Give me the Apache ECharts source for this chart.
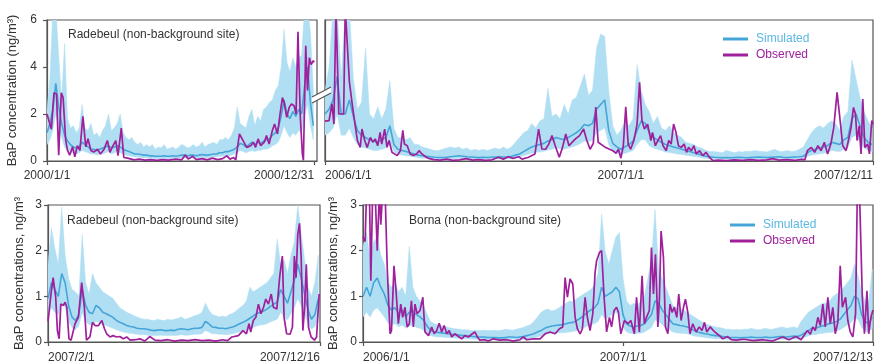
<!DOCTYPE html>
<html>
<head>
<meta charset="utf-8">
<script src="https://cdn.jsdelivr.net/npm/echarts@6/dist/echarts.min.js"></script>
<style>
  html, body { margin: 0; padding: 0; background: #fff; }
  #chart { width: 876px; height: 364px; }
</style>
</head>
<body>
<div id="chart"></div>
<script>
// ---------- Radebeul 2000 (top left), simulated band sampled every 4 days ----------
const tlStep = 4;
const tlLow = [
  0.7, 0.9, 1.3, 2.0, 1.4, 1.0, 0.6, 0.45, 0.4, 0.35,
  0.3, 0.35, 0.45, 0.4, 0.35, 0.3, 0.3, 0.25, 0.3, 0.3,
  0.35, 0.4, 0.3, 0.35, 0.4, 0.35, 0.3, 0.25, 0.22, 0.2,
  0.17, 0.17, 0.15, 0.13, 0.13, 0.12, 0.12, 0.1, 0.1, 0.1,
  0.12, 0.1, 0.1, 0.12, 0.1, 0.12, 0.13, 0.13, 0.12, 0.13,
  0.13, 0.12, 0.13, 0.15, 0.13, 0.13, 0.15, 0.17, 0.17, 0.2,
  0.2, 0.22, 0.22, 0.25, 0.3, 0.35, 0.45, 0.4, 0.35, 0.4,
  0.45, 0.4, 0.45, 0.45, 0.5, 0.5, 0.55, 0.65, 0.7, 0.8,
  1.1, 1.5, 1.2, 1.0, 1.2, 1.1, 1.3, 1.2, 1.9, 2.4,
  1.5, 0.9
];
const tlMid = [
  1.2, 1.6, 2.2, 3.3, 2.3, 1.6, 1.1, 0.85, 0.7, 0.6,
  0.55, 0.6, 0.8, 0.7, 0.6, 0.5, 0.5, 0.45, 0.5, 0.55,
  0.6, 0.65, 0.55, 0.6, 0.65, 0.6, 0.5, 0.45, 0.4, 0.35,
  0.3, 0.3, 0.28, 0.25, 0.25, 0.22, 0.22, 0.2, 0.2, 0.2,
  0.22, 0.2, 0.2, 0.22, 0.2, 0.22, 0.25, 0.25, 0.22, 0.25,
  0.25, 0.22, 0.25, 0.28, 0.25, 0.25, 0.28, 0.3, 0.3, 0.35,
  0.35, 0.4, 0.4, 0.45, 0.5, 0.6, 0.75, 0.7, 0.6, 0.7,
  0.8, 0.7, 0.8, 0.75, 0.85, 0.9, 0.95, 1.1, 1.2, 1.4,
  1.9, 2.6, 2.0, 1.8, 2.1, 1.9, 2.2, 2.0, 3.2, 4.0,
  2.5, 1.5
];
const tlHigh = [
  2.2, 3.5, 6.5, 6.5, 4.5, 2.6, 5.0, 1.8, 1.4, 1.5,
  1.2, 1.4, 2.4, 1.4, 1.3, 1.6, 1.1, 1.2, 1.0, 1.3,
  1.5, 2.0, 1.3, 1.4, 1.6, 2.0, 1.2, 1.0, 0.9, 1.0,
  0.8, 0.7, 0.8, 0.6, 0.7, 0.6, 0.7, 0.5, 0.6, 0.55,
  0.7, 0.5, 0.55, 0.6, 0.5, 0.6, 0.7, 0.65, 0.55, 0.6,
  0.7, 0.6, 0.65, 0.8, 0.6, 0.7, 0.75, 0.8, 0.7, 0.9,
  0.9, 1.0, 0.9, 1.1, 1.4, 2.3, 1.6, 1.5, 1.4, 1.9,
  2.2, 1.5, 1.9, 1.7, 2.2, 2.3, 2.5, 2.6, 3.0, 3.2,
  4.0, 5.6, 4.2, 3.8, 4.4, 4.0, 4.4, 4.5, 6.5, 6.5,
  5.5, 3.0
];
// observed: [day of record, ng/m3]
const tlObserved = [
  [0, 2.0], [6, 1.35], [9.5, 2.9], [13, 2.85], [16, 0.25], [19.5, 2.9], [22, 2.7], [25.5, 0.9],
  [28, 0.45], [31, 0.25], [35, 0.6], [38, 0.18], [41.5, 0.65], [45, 0.45], [49, 1.9], [53, 0.6],
  [56, 0.95], [60, 0.45], [64, 0.38], [69, 0.5], [73, 0.3], [78, 0.5], [82.5, 0.87], [86, 0.37],
  [89, 0.58], [94, 0.87], [97, 0.23], [101.5, 1.4], [105, 0.15], [110, 0.12], [119, 0.05], [126, 0.08],
  [134, 0.04], [142, 0.06], [150, 0.03], [158, 0.06], [166, 0.04], [176, 0.08], [184, 0.05], [189, 0.25],
  [193, 0.08], [199, 0.2], [204, 0.06], [212, 0.1], [219, 0.05], [226, 0.12], [233, 0.06], [240, 0.1],
  [246, 0.22], [250, 0.08], [255, 0.15], [258, 0.05], [263, 1.15], [268, 0.87], [273, 0.58], [278.5, 0.65],
  [282, 0.8], [285, 0.58], [288.5, 0.94], [292, 0.65], [297, 0.8], [300, 1.08], [303.5, 0.72], [308, 1.3],
  [311, 1.57], [315, 1.15], [318.5, 2.0], [321.7, 2.7], [324, 2.5], [327.6, 1.86], [331, 2.28], [334, 2.43],
  [337.7, 2.35], [340.4, 2.0], [343, 5.5], [346, 2.0], [349, 0.3], [350.4, 0.03], [353.6, 4.9], [356, 3.0],
  [358.6, 4.4], [361, 4.1], [364, 4.27], [365, 4.2]
];

// ---------- Radebeul 2006-2007 (top right), band sampled every 5 records ----------
const trStep = 5;
const trLow = [
  1.1, 1.2, 1.4, 2.0, 1.1, 1.1, 1.4, 1.0, 0.7, 0.6,
  0.55, 0.5, 0.45, 0.45, 0.5, 0.55, 0.8, 0.4, 0.28, 0.25,
  0.22, 0.2, 0.17, 0.14, 0.12, 0.11, 0.1, 0.09, 0.08, 0.08,
  0.09, 0.1, 0.1, 0.11, 0.1, 0.09, 0.09, 0.08, 0.08, 0.08,
  0.08, 0.08, 0.09, 0.09, 0.09, 0.09, 0.11, 0.14, 0.17, 0.22,
  0.28, 0.33, 0.36, 0.39, 0.41, 0.47, 0.5, 0.55, 0.52, 0.5,
  0.55, 0.6, 0.66, 0.74, 0.85, 0.82, 0.88, 1.2, 1.3, 1.4,
  0.7, 0.4, 0.33, 0.28, 0.33, 0.38, 0.45, 0.7, 0.9, 0.9,
  0.65, 0.55, 0.5, 0.45, 0.38, 0.36, 0.33, 0.3, 0.28, 0.25,
  0.22, 0.19, 0.17, 0.14, 0.11, 0.1, 0.09, 0.08, 0.08, 0.08,
  0.08, 0.08, 0.09, 0.08, 0.08, 0.08, 0.09, 0.09, 0.09, 0.08,
  0.09, 0.09, 0.1, 0.09, 0.08, 0.09, 0.09, 0.1, 0.11, 0.2,
  0.25, 0.28, 0.3, 0.33, 0.36, 0.45, 0.42, 0.4, 0.5, 0.55,
  1.0, 1.1, 0.8, 0.55, 0.45, 0.4
];
const trMid = [
  2.0, 2.2, 2.6, 3.6, 2.0, 2.0, 2.6, 1.9, 1.3, 1.1,
  1.0, 0.9, 0.85, 0.8, 0.9, 1.0, 1.5, 0.7, 0.5, 0.45,
  0.4, 0.35, 0.3, 0.25, 0.22, 0.2, 0.18, 0.16, 0.15, 0.15,
  0.16, 0.18, 0.2, 0.22, 0.2, 0.18, 0.17, 0.16, 0.15, 0.16,
  0.15, 0.16, 0.17, 0.18, 0.17, 0.18, 0.2, 0.25, 0.3, 0.4,
  0.5, 0.6, 0.65, 0.7, 0.75, 0.85, 0.9, 1.0, 0.95, 0.9,
  1.0, 1.1, 1.2, 1.35, 1.55, 1.5, 1.6, 2.2, 2.4, 2.6,
  1.3, 0.75, 0.6, 0.5, 0.6, 0.7, 0.85, 1.3, 1.7, 1.6,
  1.2, 1.0, 0.9, 0.8, 0.7, 0.65, 0.6, 0.55, 0.5, 0.45,
  0.4, 0.35, 0.3, 0.25, 0.2, 0.18, 0.16, 0.15, 0.14, 0.15,
  0.14, 0.15, 0.16, 0.15, 0.14, 0.15, 0.16, 0.17, 0.16, 0.15,
  0.16, 0.17, 0.18, 0.16, 0.15, 0.16, 0.17, 0.18, 0.2, 0.35,
  0.45, 0.5, 0.55, 0.6, 0.65, 0.8, 0.75, 0.7, 0.9, 1.0,
  1.8, 2.0, 1.5, 1.0, 0.8, 0.7
];
const trHigh = [
  3.0, 4.0, 6.5, 6.5, 3.5, 6.5, 6.5, 3.5, 2.2, 2.5,
  4.8, 2.0, 1.8, 2.3, 1.8, 2.2, 3.4, 1.4, 1.0, 1.0,
  0.9, 1.0, 0.7, 0.7, 0.6, 0.55, 0.5, 0.45, 0.45, 0.5,
  0.55, 0.6, 0.55, 0.6, 0.5, 0.55, 0.45, 0.5, 0.45, 0.5,
  0.45, 0.5, 0.55, 0.5, 0.6, 0.5, 0.6, 0.8, 1.0, 1.2,
  1.3, 1.6, 1.4, 1.7, 1.8, 3.1, 1.9, 2.0, 1.8, 2.4,
  2.0, 2.6, 2.7, 3.2, 3.7, 2.8, 3.0, 4.8, 5.4, 5.3,
  3.0, 1.5, 1.1, 1.3, 1.7, 1.5, 1.8, 4.1, 3.0, 2.4,
  2.1, 1.6, 1.9, 1.4, 1.3, 1.5, 1.2, 1.1, 1.0, 0.8,
  0.75, 0.7, 0.6, 0.55, 0.45, 0.4, 0.4, 0.38, 0.35, 0.45,
  0.4, 0.35, 0.4, 0.38, 0.42, 0.4, 0.45, 0.42, 0.4, 0.38,
  0.45, 0.5, 0.42, 0.4, 0.45, 0.4, 0.42, 0.5, 0.6, 0.9,
  1.2, 1.4, 1.5, 1.4, 1.6, 1.7, 1.6, 1.3, 1.9, 2.1,
  4.3, 3.5, 2.7, 2.1, 1.7, 1.4
];
const trObserved = [
  [0, 1.7], [5, 1.72], [8.6, 2.43], [11, 1.57], [13.5, 6.5], [17, 2.0], [23, 2.0], [25, 6.5],
  [27, 6.5], [30, 3.4], [33, 2.57], [37, 1.57], [40, 0.87], [43.5, 0.58], [45.6, 1.36], [49, 0.87],
  [52, 0.58], [56, 1.0], [59, 0.8], [62, 0.94], [65, 0.65], [68, 1.22], [70, 0.72], [73.6, 1.36],
  [76.5, 0.58], [79, 0.87], [82.6, 0.37], [89, 0.23], [93, 0.44], [96, 1.3], [98, 0.72], [101.5, 0.65],
  [105, 0.3], [109, 0.23], [113, 0.3], [116, 0.44], [119.6, 0.3], [124, 0.18], [128, 0.11], [134, 0.06],
  [142, 0.04], [150, 0.08], [158, 0.03], [166, 0.05], [174, 0.1], [182, 0.04], [190, 0.06], [198, 0.03],
  [206, 0.05], [214, 0.16], [220, 0.08], [226, 0.18], [232, 0.11], [239, 0.18], [243, 0.08], [251, 0.16],
  [259, 0.3], [263.5, 1.36], [267.6, 0.51], [272, 0.5], [276, 0.72], [280, 1.08], [284, 0.65], [289, 0.16],
  [293, 0.58], [297, 1.15], [301, 0.65], [305, 0.8], [309, 0.94], [314, 1.08], [319, 1.36], [323, 0.87],
  [327, 0.5], [331, 0.75], [334, 2.3], [337, 0.8], [345, 0.6], [355, 0.44], [359, 0.33], [362, 0.5],
  [365, 0.12], [368, 0.65], [371, 2.31], [374, 0.72], [377, 0.5], [381, 0.87], [385, 1.57], [388, 3.35],
  [391, 1.72], [394, 1.36], [398, 1.57], [402, 0.87], [404, 1.22], [407.5, 0.65], [410.6, 0.87], [414, 1.08],
  [417, 0.65], [421, 0.44], [424, 0.87], [427, 0.72], [430, 1.57], [433, 1.22], [436, 0.65], [439.5, 0.58],
  [443, 0.72], [446, 0.37], [448.5, 0.58], [452, 0.44], [455, 0.65], [458, 0.3], [462, 0.44], [466, 0.23],
  [470, 0.37], [474, 0.16], [478.5, 0.02], [485, 0.04], [495, 0.02], [505, 0.05], [515, 0.03], [525, 0.06],
  [535, 0.03], [545, 0.05], [552, 0.1], [560, 0.04], [570, 0.06], [580, 0.03], [588, 0.07], [592, 0.05],
  [595, 0.44], [600, 0.58], [604, 0.37], [608, 0.65], [612, 0.44], [616, 0.8], [620, 0.3], [624, 0.72],
  [627.6, 1.43], [631.7, 2.92], [634.6, 2.0], [638.7, 0.65], [642.8, 0.44], [645.7, 0.87], [649, 1.43], [651.9, 2.28],
  [654.4, 2.0], [656.4, 0.87], [659, 1.5], [661.3, 0.3], [663.4, 2.64], [666, 0.58], [669.5, 0.72], [671.6, 0.3],
  [674.5, 1.72], [676, 1.57]
];

// ---------- Radebeul 2007 (bottom left), band sampled every 4 days ----------
const blStep = 4;
const blLow = [
  0.55, 0.75, 0.65, 0.6, 0.85, 0.75, 0.45, 0.32, 0.27, 0.35,
  0.65, 0.45, 0.38, 0.36, 0.45, 0.42, 0.38, 0.36, 0.33, 0.3,
  0.27, 0.24, 0.22, 0.2, 0.19, 0.18, 0.17, 0.16, 0.16, 0.15,
  0.14, 0.14, 0.14, 0.15, 0.14, 0.14, 0.14, 0.14, 0.15, 0.16,
  0.15, 0.15, 0.16, 0.17, 0.17, 0.18, 0.25, 0.22, 0.18, 0.18,
  0.17, 0.17, 0.16, 0.17, 0.18, 0.2, 0.22, 0.24, 0.26, 0.29,
  0.32, 0.35, 0.37, 0.38, 0.4, 0.44, 0.47, 0.5, 0.65, 0.55,
  0.48, 0.62, 0.75, 0.95, 0.8, 0.6, 0.4, 0.28, 0.34, 0.55
];
const blMid = [
  0.95, 1.3, 1.15, 1.0, 1.5, 1.3, 0.8, 0.55, 0.47, 0.6,
  1.15, 0.8, 0.65, 0.62, 0.8, 0.75, 0.65, 0.62, 0.58, 0.54,
  0.47, 0.43, 0.4, 0.36, 0.34, 0.33, 0.3, 0.29, 0.29, 0.28,
  0.26, 0.25, 0.26, 0.27, 0.25, 0.25, 0.26, 0.25, 0.28, 0.29,
  0.28, 0.27, 0.29, 0.3, 0.3, 0.32, 0.45, 0.4, 0.33, 0.32,
  0.3, 0.3, 0.29, 0.31, 0.33, 0.36, 0.4, 0.43, 0.47, 0.52,
  0.57, 0.62, 0.65, 0.68, 0.72, 0.78, 0.83, 0.88, 1.15, 1.0,
  0.85, 1.1, 1.35, 1.7, 1.4, 1.05, 0.7, 0.5, 0.6, 0.95
];
const blHigh = [
  1.7, 2.5, 2.05, 1.7, 2.95, 1.9, 1.4, 1.15, 1.1, 1.0,
  2.35, 1.3, 1.05, 1.5, 1.3, 1.2, 1.1, 1.05, 1.0, 0.95,
  0.85, 0.75, 0.7, 0.65, 0.62, 0.58, 0.55, 0.52, 0.5, 0.5,
  0.48, 0.47, 0.5, 0.48, 0.47, 0.5, 0.48, 0.5, 0.52, 0.55,
  0.5, 0.52, 0.55, 0.58, 0.6, 0.65, 0.85, 0.7, 0.6, 0.58,
  0.55, 0.57, 0.55, 0.6, 0.63, 0.68, 0.75, 0.8, 0.9, 1.2,
  1.1, 1.15, 1.2, 1.25, 1.3, 1.4, 1.5, 2.25, 1.7, 1.8,
  1.5, 1.9, 2.2, 3.0, 2.4, 1.8, 1.2, 1.0, 1.3, 1.9
];
const blObserved = [
  [0, 0.45], [3.5, 1.05], [6, 1.41], [9, 0.98], [11, 0.25], [13, 0.07], [15, 0.83], [18, 0.8],
  [20, 0.87], [22, 0.76], [24.5, 0.07], [27, 0.04], [31.6, 0.4], [35.5, 0.54], [39.4, 1.3], [42.5, 0.76],
  [45, 0.04], [49, 0.11], [52, 0.43], [55, 0.36], [59, 0.36], [63, 0.47], [66, 0.29], [68.6, 0.18],
  [72.5, 0.11], [76, 0.14], [80, 0.11], [84, 0.12], [88, 0.07], [92, 0.11], [96, 0.04], [102, 0.05],
  [107.6, 0.07], [113, 0.02], [119, 0.12], [125, 0.04], [132, 0.03], [140, 0.05], [148, 0.02], [156, 0.04],
  [164, 0.03], [172, 0.05], [180, 0.03], [188, 0.04], [196, 0.02], [204, 0.05], [210, 0.03], [215, 0.11],
  [222.6, 0.14], [228, 0.25], [232, 0.18], [235, 0.4], [237, 0.22], [240, 0.47], [243, 0.54], [246, 0.83],
  [249, 0.62], [252, 0.76], [254.6, 0.94], [257.7, 0.83], [261, 1.05], [263.5, 0.76], [267.5, 0.72], [271, 1.45],
  [274, 1.88], [276, 0.54], [279, 0.18], [283, 0.17], [285.8, 0.33], [288, 1.88], [290, 1.41], [292, 2.35],
  [294, 2.6], [296, 1.85], [298, 0.25], [300, 0.76], [302, 1.7], [304.5, 0.33], [307.6, 0.11], [311.5, 0.04],
  [314, 0.11], [317, 1.05]
];

// ---------- Borna 2006-2007 (bottom right), band sampled every 5 days ----------
const brStep = 5;
const brLow = [
  0.55, 0.65, 0.55, 0.7, 0.75, 0.65, 0.55, 0.42, 0.38, 0.4,
  0.33, 0.37, 0.3, 0.35, 0.36, 0.32, 0.3, 0.26, 0.19, 0.14,
  0.12, 0.11, 0.11, 0.1, 0.1, 0.09, 0.09, 0.08, 0.07, 0.07,
  0.07, 0.06, 0.06, 0.06, 0.06, 0.05, 0.05, 0.05, 0.05, 0.05,
  0.05, 0.06, 0.06, 0.05, 0.06, 0.06, 0.07, 0.08, 0.09, 0.11,
  0.13, 0.16, 0.18, 0.19, 0.19, 0.2, 0.2, 0.21, 0.22, 0.23,
  0.25, 0.28, 0.31, 0.35, 0.38, 0.4, 0.45, 0.6, 0.5, 0.55,
  0.6, 0.65, 0.6, 0.32, 0.22, 0.19, 0.18, 0.19, 0.19, 0.22,
  0.27, 0.32, 0.48, 0.45, 0.38, 0.32, 0.27, 0.22, 0.2, 0.19,
  0.19, 0.18, 0.16, 0.13, 0.12, 0.11, 0.1, 0.09, 0.08, 0.07,
  0.07, 0.06, 0.06, 0.05, 0.05, 0.05, 0.05, 0.05, 0.05, 0.06,
  0.05, 0.05, 0.05, 0.06, 0.05, 0.05, 0.06, 0.06, 0.06, 0.06,
  0.06, 0.07, 0.06, 0.08, 0.1, 0.13, 0.16, 0.16, 0.18, 0.19,
  0.2, 0.21, 0.22, 0.24, 0.27, 0.32, 0.37, 0.42, 0.52, 0.5,
  0.32, 0.24, 0.21, 0.3
];
const brMid = [
  1.0, 1.2, 1.0, 1.3, 1.4, 1.2, 1.05, 0.8, 0.7, 0.75,
  0.62, 0.7, 0.55, 0.65, 0.68, 0.6, 0.55, 0.48, 0.35, 0.25,
  0.22, 0.21, 0.2, 0.19, 0.18, 0.17, 0.16, 0.15, 0.14, 0.14,
  0.13, 0.12, 0.11, 0.11, 0.11, 0.1, 0.1, 0.1, 0.09, 0.09,
  0.1, 0.11, 0.11, 0.1, 0.11, 0.12, 0.14, 0.16, 0.18, 0.22,
  0.25, 0.3, 0.33, 0.35, 0.36, 0.37, 0.38, 0.4, 0.42, 0.43,
  0.47, 0.52, 0.58, 0.65, 0.7, 0.75, 0.85, 1.2, 1.0, 1.05,
  1.1, 1.2, 1.1, 0.6, 0.4, 0.35, 0.33, 0.35, 0.36, 0.4,
  0.5, 0.6, 0.9, 0.85, 0.7, 0.6, 0.5, 0.4, 0.38, 0.36,
  0.35, 0.33, 0.3, 0.25, 0.22, 0.2, 0.18, 0.17, 0.15, 0.14,
  0.13, 0.12, 0.11, 0.1, 0.1, 0.1, 0.09, 0.1, 0.1, 0.11,
  0.1, 0.1, 0.1, 0.11, 0.1, 0.1, 0.11, 0.12, 0.12, 0.11,
  0.12, 0.13, 0.12, 0.15, 0.2, 0.25, 0.3, 0.3, 0.33, 0.35,
  0.38, 0.4, 0.42, 0.45, 0.5, 0.6, 0.7, 0.8, 1.0, 0.95,
  0.6, 0.45, 0.4, 0.55
];
const brHigh = [
  2.1, 2.4, 1.8, 2.2, 2.3, 1.9, 1.7, 1.3, 1.2, 1.3,
  1.1, 1.2, 1.0, 2.1, 1.2, 1.0, 0.9, 0.8, 0.6, 0.45,
  0.4, 0.38, 0.36, 0.34, 0.32, 0.3, 0.29, 0.28, 0.27, 0.27,
  0.26, 0.25, 0.25, 0.25, 0.26, 0.25, 0.25, 0.26, 0.25, 0.26,
  0.28, 0.27, 0.26, 0.28, 0.3, 0.32, 0.35, 0.38, 0.45, 0.55,
  0.65, 0.7, 0.72, 0.68, 0.7, 0.75, 0.8, 0.85, 0.9, 0.88,
  0.95, 1.0, 1.05, 1.1, 1.15, 1.25, 1.5, 2.8, 2.0, 1.7,
  2.0, 2.3, 2.4, 1.4, 0.9, 0.8, 0.85, 0.8, 0.9, 1.0,
  1.4, 1.8, 2.9, 1.6, 1.4, 1.2, 1.0, 0.8, 0.75, 0.72,
  0.7, 0.65, 0.6, 0.55, 0.5, 0.45, 0.4, 0.38, 0.35, 0.33,
  0.32, 0.3, 0.28, 0.28, 0.27, 0.28, 0.27, 0.28, 0.28, 0.3,
  0.28, 0.27, 0.28, 0.3, 0.28, 0.28, 0.3, 0.32, 0.33, 0.3,
  0.32, 0.33, 0.3, 0.45, 0.55, 0.65, 0.7, 0.75, 0.8, 0.85,
  0.85, 0.9, 1.0, 1.05, 1.1, 1.2, 1.3, 1.4, 1.7, 1.45,
  1.1, 0.9, 0.9, 1.6
];
const brObserved = [
  [0, 2.3], [3, 2.2], [5, 3.3], [9, 3.3], [11, 1.34], [13.6, 3.3], [17, 3.3], [20, 2.0],
  [23, 3.3], [25, 2.57], [27.6, 3.3], [31, 3.3], [34, 1.63], [38, 0.18], [40, 0.25], [43.5, 1.67],
  [46, 1.2], [49.6, 0.4], [53, 0.83], [55.7, 0.54], [59, 0.76], [62, 0.33], [65, 0.4], [68, 0.9],
  [70.7, 0.33], [73, 0.83], [76, 0.62], [80, 0.69], [84, 0.98], [87, 0.22], [92, 0.14], [96.4, 0.33],
  [100, 0.18], [103.5, 0.25], [107, 0.41], [110.5, 0.22], [114, 0.36], [117.5, 0.18], [121, 0.25], [124.5, 0.11],
  [129, 0.18], [134, 0.12], [138.6, 0.07], [143, 0.14], [148, 0.11], [152.6, 0.17], [157, 0.22], [160.6, 0.11],
  [164, 0.04], [171, 0.05], [176, 0.02], [183, 0.07], [192, 0.04], [202, 0.05], [211, 0.02], [220.5, 0.05],
  [225, 0.11], [230, 0.05], [239, 0.07], [248.6, 0.07], [255.6, 0.18], [262.6, 0.22], [269.7, 0.18], [275.8, 0.29],
  [280.4, 0.33], [283.7, 1.41], [287, 0.98], [290.7, 1.38], [294.5, 1.27], [297.8, 0.54], [301, 0.29], [304.8, 0.18],
  [308, 0.29], [311.8, 0.98], [315, 0.54], [318.8, 0.25], [322.6, 0.62], [325.8, 1.52], [328, 1.78], [332, 1.96],
  [335, 2.0], [338.5, 0.98], [342, 0.22], [346, 0.54], [349, 0.33], [352.5, 0.69], [356, 0.76], [358.6, 0.65],
  [362, 0.18], [367, 0.47], [372, 0.4], [376, 0.47], [381, 0.18], [384, 0.98], [388, 0.22], [391.8, 1.45],
  [395, 0.4], [398, 0.54], [402, 0.69], [405, 2.07], [407.8, 1.05], [410.6, 1.92], [414, 0.33], [416.2, 0.98],
  [418.5, 2.43], [421.8, 1.85], [424.6, 0.33], [428, 0.18], [431, 0.83], [434, 0.65], [437, 0.76], [440.5, 0.54],
  [443.3, 1.05], [446.6, 0.47], [450, 0.76], [452.7, 0.94], [456, 0.65], [459, 0.18], [463, 0.4], [467.7, 0.22],
  [472, 0.33], [476, 0.25], [479.4, 0.43], [482.6, 0.22], [487.4, 0.33], [492, 0.25], [497, 0.18], [500.5, 0.14],
  [505, 0.07], [512, 0.12], [517, 0.05], [524, 0.04], [535, 0.06], [548, 0.03], [562, 0.05], [575, 0.02],
  [589, 0.11], [598, 0.05], [608, 0.12], [615, 0.05], [624, 0.25], [628, 0.17], [631.5, 0.33], [635, 0.25],
  [638.6, 0.54], [642, 0.36], [645.6, 0.83], [649, 0.33], [652.6, 0.98], [656, 0.4], [659.6, 0.76], [663, 0.18],
  [666.6, 0.43], [670, 1.67], [673, 0.76], [677.5, 0.98], [680.7, 0.47], [684, 0.22], [687.7, 0.11], [691.5, 0.62],
  [694, 3.3], [697, 3.3], [701, 0.98], [704, 0.18], [707.5, 1.12], [710, 0.18], [713, 0.54], [716, 0.7]
];

// ---------- axis ranges and tick labels ----------
const tlRange = 369, trRange = 676, blRange = 318, brRange = 716;
const tlTicks = [0, 365],      tlTickLabels = ['2000/1/1', '2000/12/31'];
const trTicks = [0, 365, 676], trTickLabels = ['2006/1/1', '2007/1/1', '2007/12/11'];
const blTicks = [0, 318],      blTickLabels = ['2007/2/1', '2007/12/16'];
const brTicks = [0, 365, 716], brTickLabels = ['2006/1/1', '2007/1/1', '2007/12/13'];

// ---------- styling ----------
const FONT = '"Liberation Sans", Arial, sans-serif';
const TEXT = '#333';
const AXIS = '#555';
const BAND = '#b0dff3';
const SIM = '#45a5d8';
const SIM_TEXT = '#5bb7e3';
const OBS = '#a0209c';

// simulated spread: one polygon from the low edge forward and the high edge back
function bandSeries(key, gi, step, lo, hi) {
  return {
    name: key + 'Spread', type: 'custom', xAxisIndex: gi, yAxisIndex: gi,
    silent: true, clip: true, z: 1,
    data: lo.map((v, i) => [i * step, v, hi[i]]),
    renderItem: (params, api) => {
      if (params.dataIndex !== 0) return null;
      const pts = [];
      for (let i = 0; i < lo.length; i++) pts.push(api.coord([i * step, lo[i]]));
      for (let i = hi.length - 1; i >= 0; i--) pts.push(api.coord([i * step, hi[i]]));
      return { type: 'polygon', shape: { points: pts }, style: { fill: BAND, stroke: BAND, lineWidth: 0.5 } };
    }
  };
}

function panelSeries(key, gi, step, lo, mid, hi, obs) {
  const common = { type: 'line', xAxisIndex: gi, yAxisIndex: gi, symbol: 'none', silent: true, clip: true };
  return [
    bandSeries(key, gi, step, lo, hi),
    Object.assign({}, common, {
      name: 'Simulated', data: mid.map((v, i) => [i * step, v]), color: SIM,
      lineStyle: { color: SIM, width: 1.6 }, z: 2
    }),
    Object.assign({}, common, {
      name: 'Observed', data: obs, color: OBS,
      lineStyle: { color: OBS, width: 1.7 }, z: 3
    })
  ];
}

function xAxisFor(gi, max, ticks, labels, minAlign, maxAlign, margin) {
  return {
    gridIndex: gi, type: 'value', min: 0, max: max,
    splitLine: { show: false },
    axisLine: { show: true, onZero: false, lineStyle: { color: AXIS, width: 1.2 } },
    axisTick: { show: true, customValues: ticks, length: 4, lineStyle: { color: AXIS, width: 1.2 } },
    axisLabel: {
      customValues: ticks,
      formatter: (v) => { const k = ticks.indexOf(v); return k >= 0 ? labels[k] : ''; },
      margin: margin, color: TEXT, fontSize: 12, fontFamily: FONT,
      showMinLabel: true, showMaxLabel: true, hideOverlap: false,
      alignMinLabel: minAlign, alignMaxLabel: maxAlign
    }
  };
}

function yAxisFor(gi, max, interval, showLabels, name, gap, margin) {
  return {
    gridIndex: gi, type: 'value', min: 0, max: max, interval: interval,
    splitLine: { show: false },
    axisLine: { show: true, lineStyle: { color: AXIS, width: 1.2 } },
    axisTick: { show: showLabels, length: 4, lineStyle: { color: AXIS, width: 1.2 } },
    axisLabel: { show: showLabels, margin: margin, color: TEXT, fontSize: 12, fontFamily: FONT },
    name: name, nameLocation: 'middle', nameGap: gap,
    nameTextStyle: { color: TEXT, fontSize: 13, fontFamily: FONT }
  };
}

function legendAt(left, top, gap) {
  return {
    left: left, top: top, orient: 'vertical', icon: 'rect', itemWidth: 25, itemHeight: 3, itemGap: gap,
    selectedMode: false,
    textStyle: { fontSize: 12, fontFamily: FONT, padding: [0, 0, 0, 3] },
    data: [
      { name: 'Simulated', itemStyle: { color: SIM }, textStyle: { color: SIM_TEXT } },
      { name: 'Observed', itemStyle: { color: OBS }, textStyle: { color: OBS } }
    ]
  };
}

const gridBase = { show: true, borderColor: AXIS, borderWidth: 1.2, backgroundColor: 'transparent' };

const option = {
  animation: false,
  backgroundColor: '#fff',
  grid: [
    Object.assign({ left: 47, top: 20, width: 270, height: 141 }, gridBase),
    Object.assign({ left: 325, top: 20, width: 548, height: 141 }, gridBase),
    Object.assign({ left: 48, top: 205, width: 272, height: 138 }, gridBase),
    Object.assign({ left: 363, top: 205, width: 510, height: 138 }, gridBase)
  ],
  xAxis: [
    xAxisFor(0, tlRange, tlTicks, tlTickLabels, 'center', 'right', 9),
    xAxisFor(1, trRange, trTicks, trTickLabels, 'left', 'right', 9),
    xAxisFor(2, blRange, blTicks, blTickLabels, 'left', 'right', 10),
    xAxisFor(3, brRange, brTicks, brTickLabels, 'left', 'right', 10)
  ],
  yAxis: [
    yAxisFor(0, 6, 2, true, 'BaP concentration (ng/m³)', 28, 10),
    yAxisFor(1, 6, 2, false, '', 0, 0),
    yAxisFor(2, 3, 1, true, 'BaP concentrations, ng/m³', 22, 6),
    yAxisFor(3, 3, 1, true, 'BaP concentrations, ng/m³', 21, 6)
  ],
  legend: [legendAt(718, 28, 4), legendAt(725, 214, 4)],
  graphic: [
    { type: 'text', left: 68, top: 29, z: 10, style: { text: 'Radebeul (non-background site)', fill: TEXT, font: '12px ' + FONT } },
    { type: 'text', left: 67, top: 215, z: 10, style: { text: 'Radebeul (non-background site)', fill: TEXT, font: '12px ' + FONT } },
    { type: 'text', left: 409, top: 215, z: 10, style: { text: 'Borna (non-background site)', fill: TEXT, font: '12px ' + FONT } },
    // axis break between the 2000 and 2006-2007 panels
    { type: 'polygon', z: 20, shape: { points: [[312, 97], [331, 87], [331, 93], [312, 103]] }, style: { fill: '#fff' } },
    { type: 'line', z: 21, shape: { x1: 312, y1: 97, x2: 331, y2: 87 }, style: { stroke: AXIS, lineWidth: 1.2 } },
    { type: 'line', z: 21, shape: { x1: 312, y1: 103, x2: 331, y2: 93 }, style: { stroke: AXIS, lineWidth: 1.2 } }
  ],
  series: [].concat(
    panelSeries('tl', 0, tlStep, tlLow, tlMid, tlHigh, tlObserved),
    panelSeries('tr', 1, trStep, trLow, trMid, trHigh, trObserved),
    panelSeries('bl', 2, blStep, blLow, blMid, blHigh, blObserved),
    panelSeries('br', 3, brStep, brLow, brMid, brHigh, brObserved)
  )
};

const chart = echarts.init(document.getElementById('chart'), null, { renderer: 'canvas' });
chart.setOption(option);
</script>
</body>
</html>
